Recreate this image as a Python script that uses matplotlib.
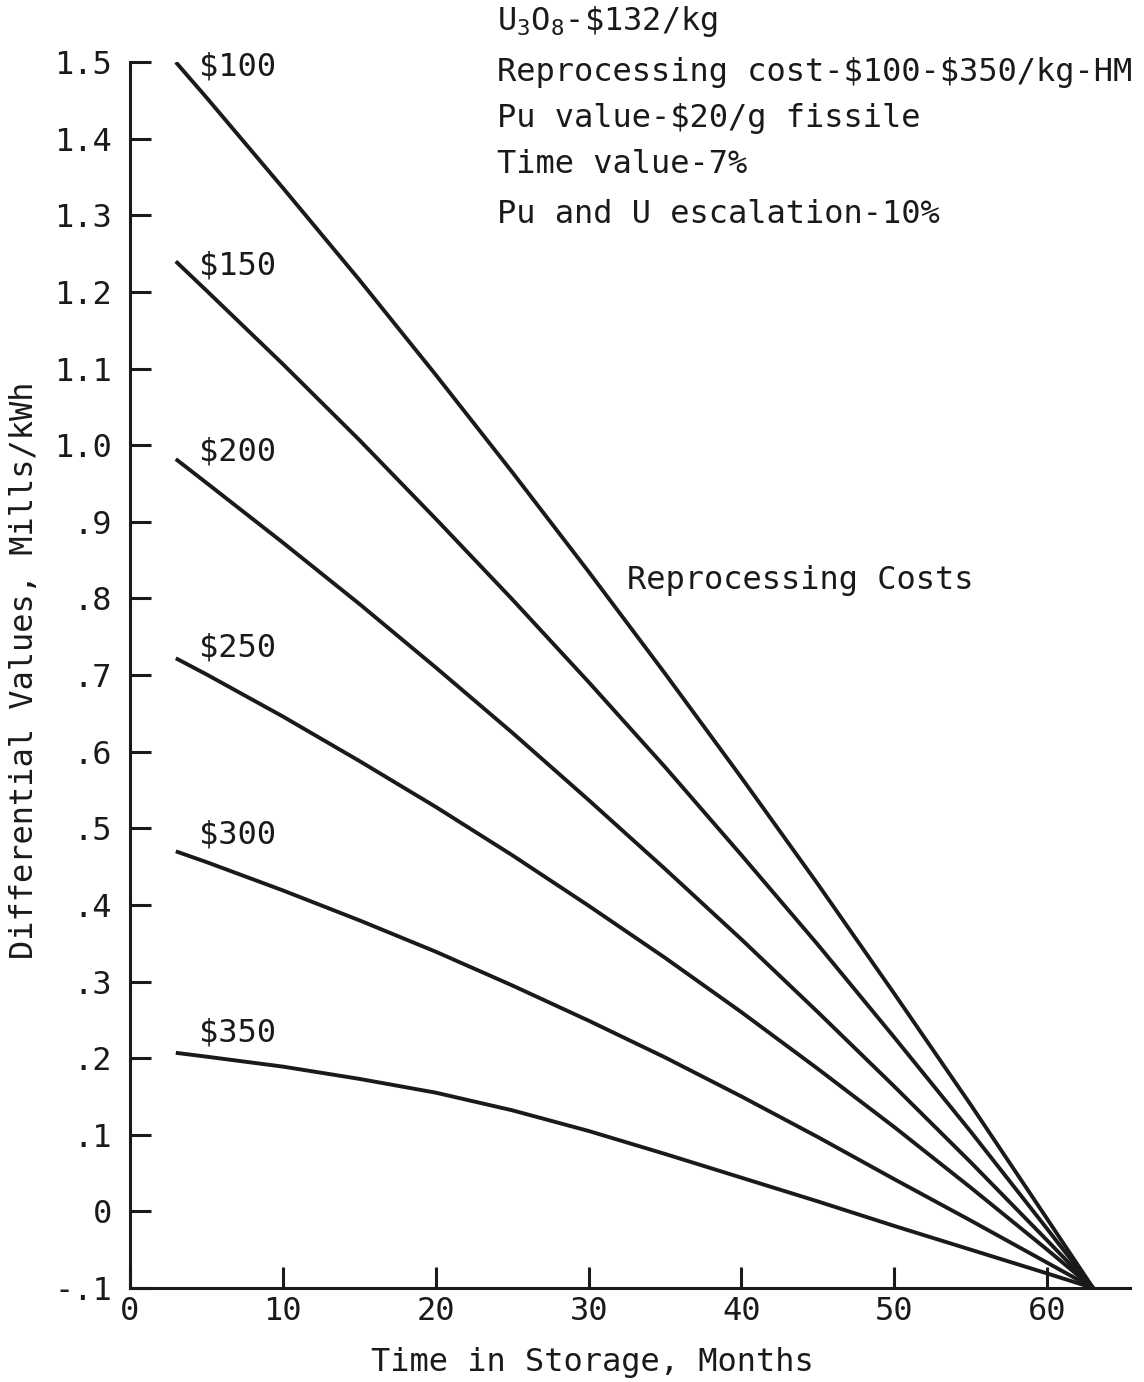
import numpy as np
import matplotlib.pyplot as plt

plt.rcParams['font.family'] = 'DejaVu Sans Mono'
plt.rcParams['mathtext.fontset'] = 'custom'
plt.rcParams['mathtext.rm'] = 'DejaVu Sans Mono'
plt.rcParams['mathtext.it'] = 'DejaVu Sans Mono'

# months in storage
meses = [3, 5, 10, 15, 20, 25, 30, 35, 40, 45, 50, 55, 60, 63]

# differential value (mills/kWh) for each reprocessing cost
costos = ['$100', '$150', '$200', '$250', '$300', '$350']
v100 = [1.500, 1.454, 1.336, 1.216, 1.092, 0.965, 0.835, 0.702, 0.566, 0.427, 0.284, 0.139, -0.010, -0.10]
v150 = [1.240, 1.202, 1.106, 1.007, 0.904, 0.799, 0.691, 0.580, 0.465, 0.348, 0.227, 0.104, -0.023, -0.10]
v200 = [0.982, 0.951, 0.873, 0.793, 0.710, 0.625, 0.537, 0.447, 0.355, 0.260, 0.163, 0.064, -0.038, -0.10]
v250 = [0.722, 0.701, 0.646, 0.588, 0.528, 0.465, 0.399, 0.331, 0.260, 0.186, 0.110, 0.031, -0.050, -0.10]
v300 = [0.470, 0.456, 0.419, 0.380, 0.339, 0.295, 0.249, 0.201, 0.150, 0.097, 0.042, -0.012, -0.067, -0.10]
v350 = [0.207, 0.202, 0.189, 0.173, 0.155, 0.132, 0.105, 0.075, 0.044, 0.013, -0.019, -0.050, -0.081, -0.10]
curvas = [v100, v150, v200, v250, v300, v350]

# where each cost tag sits
y_tag = [1.494, 1.234, 0.991, 0.736, 0.491, 0.233]

yticks = [-0.1, 0, 0.1, 0.2, 0.3, 0.4, 0.5, 0.6, 0.7, 0.8, 0.9, 1.0, 1.1, 1.2, 1.3, 1.4, 1.5]
ylabels = ['-.1', '0', '.1', '.2', '.3', '.4', '.5', '.6', '.7', '.8', '.9',
           '1.0', '1.1', '1.2', '1.3', '1.4', '1.5']
xticks = [0, 10, 20, 30, 40, 50, 60]

notas = ['U$_{3}$O$_{8}$-\\$132/kg',
         'Reprocessing cost-\\$100-\\$350/kg-HM',
         'Pu value-\\$20/g fissile',
         'Time value-7%',
         'Pu and U escalation-10%']
y_nota = [1.553, 1.487, 1.427, 1.366, 1.301]

tinta = '#1c1a18'
fs = 23

fig = plt.figure(figsize=(11.44, 13.82), dpi=100)
ax = fig.add_axes([0.1136, 0.068, 0.874, 0.887])

for costo, valores, yt in zip(costos, curvas, y_tag):
    ax.plot(meses, valores, color=tinta, lw=2.8, solid_capstyle='butt')
    ax.text(4.5, yt, '\\' + costo, fontsize=fs, color=tinta, va='center', ha='left')

ax.text(32.5, 0.824, 'Reprocessing Costs', fontsize=fs, color=tinta, va='center')

for yn, nota in zip(y_nota, notas):
    ax.text(24.0, yn, nota, fontsize=fs, color=tinta, va='center', clip_on=False)

ax.set_xlim(0, 65.4)
ax.set_ylim(-0.1, 1.5)
ax.set_xticks(xticks)
ax.set_yticks(yticks)
ax.set_yticklabels(ylabels)

ax.spines['top'].set_visible(False)
ax.spines['right'].set_visible(False)
for lado in ['left', 'bottom']:
    ax.spines[lado].set_linewidth(2.2)
    ax.spines[lado].set_color(tinta)

ax.tick_params(direction='in', length=15, width=2.2, color=tinta,
               labelsize=fs, labelcolor=tinta)
ax.tick_params(axis='x', pad=6)
ax.tick_params(axis='y', pad=13)

ax.set_xlabel('Time in Storage, Months', fontsize=fs, color=tinta, va='center')
ax.xaxis.set_label_coords(0.462, -0.0604)
ax.set_ylabel('Differential Values, Mills/kWh', fontsize=fs, color=tinta, va='center')
ax.yaxis.set_label_coords(-0.105, 0.504)

fig.savefig('out.png', dpi=100, facecolor='white')
